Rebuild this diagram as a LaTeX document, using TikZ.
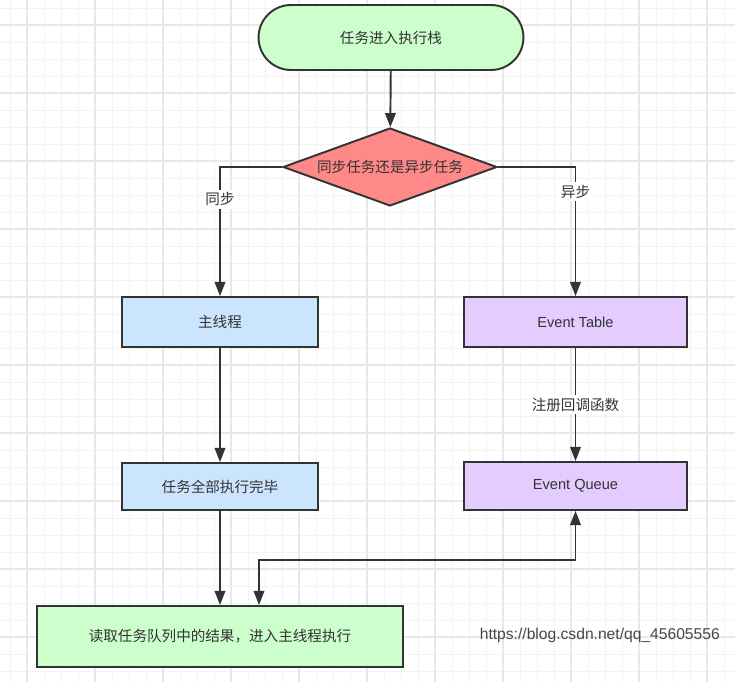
\documentclass[tikz,border=0pt]{standalone}
\usepackage{fontspec}
\setmainfont{Liberation Sans}
\newfontfamily\cjk{Noto Sans CJK SC}
\usetikzlibrary{shapes.misc,shapes.geometric}
\usetikzlibrary{arrows.meta}
\definecolor{rand}{RGB}{51,51,51}
\definecolor{gruen}{RGB}{204,255,204}
\definecolor{rot}{RGB}{255,136,136}
\definecolor{blau}{RGB}{204,229,255}
\definecolor{lila}{RGB}{229,204,255}
\definecolor{gitterfein}{RGB}{243,243,243}
\definecolor{gittergrob}{RGB}{232,232,232}

\begin{document}
\begin{tikzpicture}[x=0.02cm, y=-0.02cm,
    kasten/.style={draw=rand, line width=1.1pt, text=rand, inner sep=2pt,
        font=\fontsize{8.3}{10}\selectfont},
    cn/.style={font=\cjk\fontsize{8.3}{10}\selectfont},
    pfeil/.style={draw=rand, line width=1.1pt, -{Triangle[length=8pt,width=6pt]}},
    beschriftung/.style={fill=white, text=rand, inner sep=1.5pt, cn}]

    \useasboundingbox (0,0) rectangle (735,682);

    \foreach \k in {0,...,42}
        \draw[gitterfein, line width=0.5pt] (10+17*\k,0) -- (10+17*\k,682);
    \foreach \k in {0,...,39}
        \draw[gitterfein, line width=0.5pt] (0,8+17*\k) -- (735,8+17*\k);
    \foreach \k in {0,...,10}
        \draw[gittergrob, line width=0.7pt] (27+68*\k,0) -- (27+68*\k,682);
    \foreach \k in {0,...,9}
        \draw[gittergrob, line width=0.7pt] (0,25+68*\k) -- (735,25+68*\k);

    \node[kasten, cn, rounded rectangle, fill=gruen, minimum width=5.44cm, minimum height=1.3cm] (start) at (391,37.5) {任务进入执行栈};
    \node[kasten, cn, diamond, aspect=2.74, inner sep=0pt, fill=rot, minimum width=4.28cm, minimum height=1.56cm] (frage) at (390,167) {同步任务还是异步任务};

    \node[kasten, cn, fill=blau, minimum width=3.92cm, minimum height=1cm] (haupt) at (220,322) {主线程};
    \node[kasten, cn, fill=blau, minimum width=3.92cm, minimum height=0.94cm] (fertig) at (220,486.5) {任务全部执行完毕};
    \node[kasten, fill=lila, minimum width=4.46cm, minimum height=1cm] (tabelle) at (575.5,322) {Event Table};
    \node[kasten, fill=lila, minimum width=4.46cm, minimum height=0.96cm] (schlange) at (575.5,486) {Event Queue};
    \node[kasten, cn, fill=gruen, minimum width=7.32cm, minimum height=1.22cm] (lesen) at (220,636.5) {读取任务队列中的结果，进入主线程执行};

    \coordinate (knick) at (259,560);

    \draw[pfeil] (start) -- (frage);
    \draw[pfeil] (frage.west) -| node[beschriftung, pos=0.625] {同步} (haupt);
    \draw[pfeil] (frage.east) -| node[beschriftung, pos=0.595] {异步} (tabelle);
    \draw[pfeil] (haupt) -- (fertig);
    \draw[pfeil] (tabelle) -- node[beschriftung] {注册回调函数} (schlange);
    \draw[pfeil] (fertig.south) -- (fertig.south |- lesen.north);
    \draw[pfeil, {Triangle[length=8pt,width=6pt]}-{Triangle[length=8pt,width=6pt]}] (schlange.south) |- (knick) -- (knick |- lesen.north);

    \node[text=rand!90, font=\fontsize{8.9}{10}\selectfont, anchor=east] (quelle) at (726,635) {https://blog.csdn.net/qq\_45605556};

\end{tikzpicture}
\end{document}
